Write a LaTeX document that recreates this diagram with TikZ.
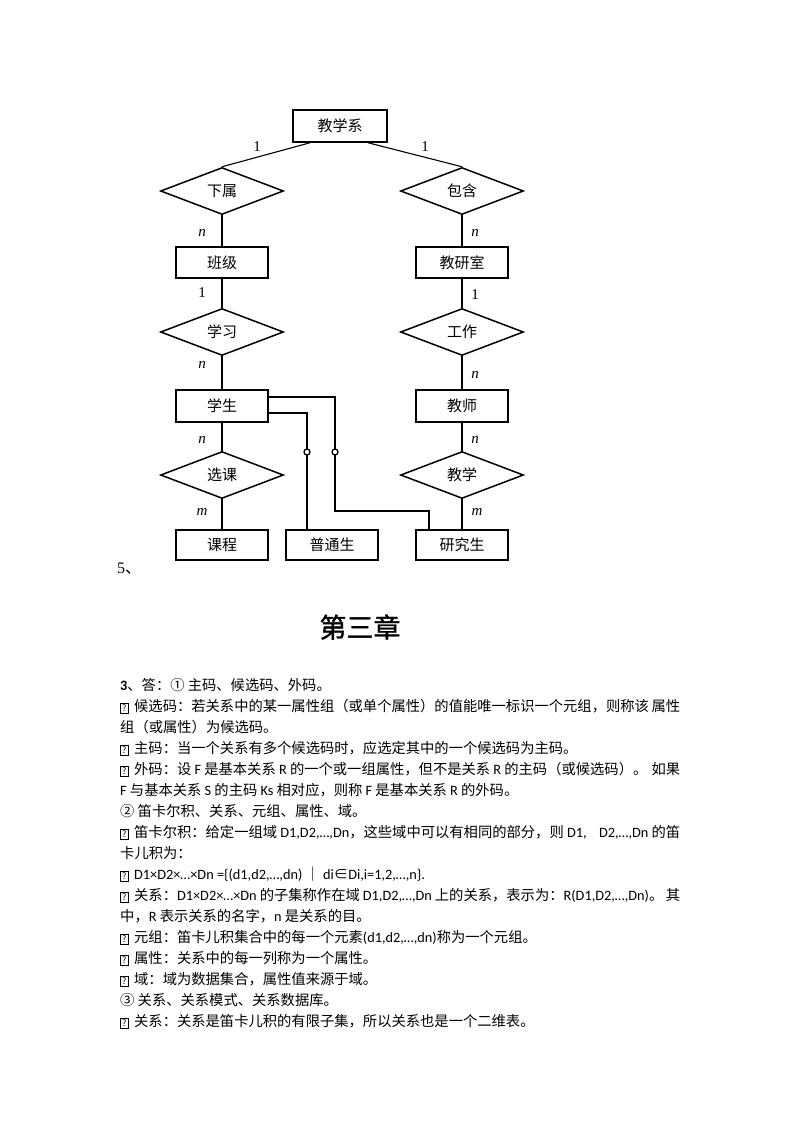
\documentclass[tikz,border=0pt]{standalone}
\usepackage{fontspec}
\newfontfamily\cjk{Noto Sans CJK SC}
\newfontfamily\cjkb[FakeBold=1.2]{Noto Sans CJK SC}
\newfontfamily\lat{Carlito}
\newfontfamily\tms{Liberation Serif}
\usetikzlibrary{shapes.geometric}
\newcommand\qb{\raisebox{-0.8pt}{\fontsize{9}{9}\selectfont\setlength\fboxsep{1.4pt}\setlength\fboxrule{0.45pt}\fbox{?}}\hspace{6pt}}
\newcommand\gap{\hspace{3pt plus 1fill minus 3pt}}
\begin{document}
\begin{tikzpicture}[x=1pt,y=-1pt,
  ent/.style={draw, line width=1.5pt, minimum width=92pt, minimum height=31pt, inner sep=0pt, font=\cjk\fontsize{15}{15}\selectfont},
  rel/.style={draw, diamond, aspect=2.6, line width=1.5pt, minimum width=123pt, minimum height=47pt, inner sep=0pt, font=\cjk\fontsize{15}{15}\selectfont},
  conn/.style={line width=1.1pt},
  card/.style={font=\tms\fontsize{15}{15}\selectfont, inner sep=0pt},
  icard/.style={font=\tms\fontsize{15}{15}\selectfont\itshape, inner sep=0pt},
  body/.style={anchor=base west, inner sep=0pt, font=\cjk\fontsize{14.3}{14.3}\selectfont},
  ring/.style={circle, draw, fill=white, line width=1.3pt, minimum size=6pt, inner sep=0pt}
]
\fill[white] (0,0) rectangle (800,1132);
\useasboundingbox (0,0) rectangle (800,1132);

% entities and relationships
\node[ent, minimum width=94pt, minimum height=32pt] (dept) at (340,126) {教学系};
\node[rel] (xs) at (222,191) {下属};
\node[rel] (bh) at (462,191) {包含};
\node[ent] (bj) at (222,262.5) {班级};
\node[ent] (jys) at (462,262.5) {教研室};
\node[rel] (xx) at (222,332) {学习};
\node[rel] (gz) at (462,332) {工作};
\node[ent, minimum height=32pt] (xsh) at (222,406) {学生};
\node[ent, minimum height=32pt] (js) at (462,406) {教师};
\node[rel] (xk) at (222,475) {选课};
\node[rel] (jx) at (462,475) {教学};
\node[ent, minimum height=30pt] (kc) at (222,545) {课程};
\node[ent, minimum height=30pt] (ptg) at (332,545) {普通生};
\node[ent, minimum height=30pt] (yjs) at (462,545) {研究生};

% connectors
\draw[conn] ([xshift=-30pt]dept.south) -- (xs.north);
\draw[conn] ([xshift=28pt]dept.south) -- (bh.north);
\draw[conn] (xs) -- (bj);
\draw[conn] (bh) -- (jys);
\draw[conn] (bj) -- (xx);
\draw[conn] (jys) -- (gz);
\draw[conn] (xx) -- (xsh);
\draw[conn] (gz) -- (js);
\draw[conn] (xsh) -- (xk);
\draw[conn] (js) -- (jx);
\draw[conn] (xk) -- (kc);
\draw[conn] (jx) -- (yjs);

\coordinate (k1) at (335,511);
\draw[conn] ([yshift=9pt]xsh.east) -| (k1) -| ([xshift=-33pt]yjs.north);
\draw[conn] ([yshift=-7pt]xsh.east) -| ([xshift=-25pt]ptg.north);
\node[ring] (r1) at (335,452) {};
\node[ring] (r2) at (307,452) {};

% cardinalities
\node[card] (c1) at (257,147) {1};
\node[card] (c2) at (425,147) {1};
\node[icard] (c3) at (202,233) {n};
\node[icard] (c4) at (475,233) {n};
\node[card] (c5) at (202,293) {1};
\node[card] (c6) at (475,295) {1};
\node[icard] (c7) at (202,365) {n};
\node[icard] (c8) at (475,375) {n};
\node[icard] (c9) at (202,440) {n};
\node[icard] (c10) at (475,440) {n};
\node[icard] (c11) at (202,512) {m};
\node[icard] (c12) at (477,512) {m};

\node[anchor=base west, inner sep=0pt, font=\tms\fontsize{16}{16}\selectfont] (five) at (117,573) {5{\cjk 、}};

\node[font=\cjkb\fontsize{27}{27}\selectfont, inner sep=0pt] (title) at (360,627) {第三章};

% body text
\node[body] (l1) at (120,690) {{\lat\bfseries 3}、答：① 主码、候选码、外码。};
\node[body] (l2) at (120,711) {\hbox to 560pt{\qb 候选码：若关系中的某一属性组（或单个属性）的值能唯一标识一个元组，则称该\gap 属性}};
\node[body] (l3) at (120,732) {组（或属性）为候选码。};
\node[body] (l4) at (120,753) {\qb 主码：当一个关系有多个候选码时，应选定其中的一个候选码为主码。};
\node[body] (l5) at (120,774) {\hbox to 560pt{\qb 外码：设 {\lat F} 是基本关系 {\lat R} 的一个或一组属性，但不是关系 {\lat R} 的主码（或候选码）。\gap 如果}};
\node[body] (l6) at (120,795) {{\lat F} 与基本关系 {\lat S} 的主码 {\lat Ks} 相对应，则称 {\lat F} 是基本关系 {\lat R} 的外码。};
\node[body] (l7) at (120,816) {② 笛卡尔积、关系、元组、属性、域。};
\node[body] (l8) at (120,837) {\hbox to 560pt{\qb 笛卡尔积：给定一组域 {\lat D1,D2,…,Dn}，这些域中可以有相同的部分，则 {\lat D1,}\gap{\lat D2,…,Dn} 的笛}};
\node[body] (l9) at (120,858) {卡儿积为：};
\node[body] (l10) at (120,879) {\qb {\lat D1×D2×…×Dn =\{(d1,d2,…,dn)} ｜ {\lat di}∈{\lat Di,i=1,2,…,n\}.}};
\node[body] (l11) at (120,900) {\hbox to 560pt{\qb 关系：{\lat D1×D2×…×Dn} 的子集称作在域 {\lat D1,D2,…,Dn} 上的关系，表示为：{\lat R(D1,D2,…,Dn)}。\gap 其}};
\node[body] (l12) at (120,921) {中，{\lat R} 表示关系的名字，{\lat n} 是关系的目。};
\node[body] (l13) at (120,942) {\qb 元组：笛卡儿积集合中的每一个元素{\lat (d1,d2,…,dn)}称为一个元组。};
\node[body] (l14) at (120,963) {\qb 属性：关系中的每一列称为一个属性。};
\node[body] (l15) at (120,984) {\qb 域：域为数据集合，属性值来源于域。};
\node[body] (l16) at (120,1005) {③ 关系、关系模式、关系数据库。};
\node[body] (l17) at (120,1026) {\qb 关系：关系是笛卡儿积的有限子集，所以关系也是一个二维表。};
\end{tikzpicture}
\end{document}
